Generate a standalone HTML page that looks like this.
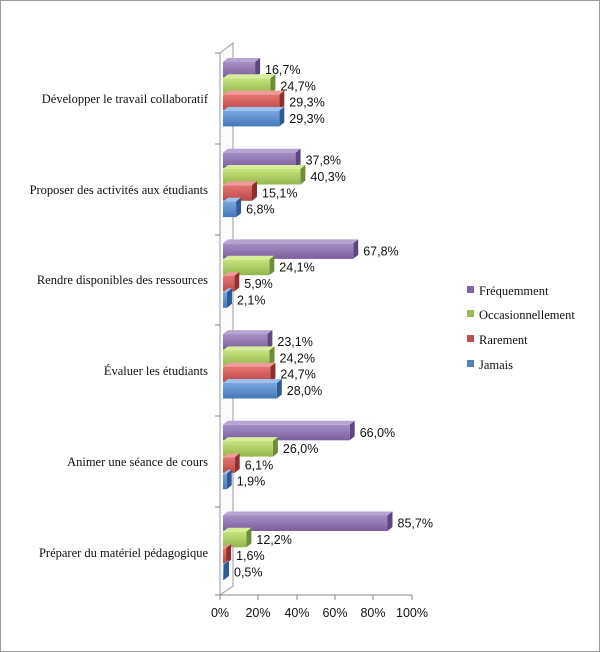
<!DOCTYPE html>
<html><head><meta charset="utf-8"><style>
html,body{margin:0;padding:0;background:#fff}
svg{display:block}
.c{font-family:"Liberation Serif",serif;font-size:12.5px;fill:#111}
.v{font-family:"Liberation Sans",sans-serif;font-size:12.5px;fill:#111}
.l{font-family:"Liberation Serif",serif;font-size:12.5px;fill:#111}
.tp{fill:#b7a3d3}.sp{fill:#5f467f}.fp{fill:url(#gp)}
.tg{fill:#d6ee98}.sg{fill:#6f8d36}.fg{fill:url(#gg)}
.tr{fill:#ee9a97}.sr{fill:#8f302d}.fr{fill:url(#gr)}
.tb{fill:#9dc0ec}.sb{fill:#2f5b94}.fb{fill:url(#gb)}
</style></head><body>
<svg width="600" height="652" viewBox="0 0 600 652" xmlns="http://www.w3.org/2000/svg">
<defs>
<linearGradient id="gp" x1="0" y1="0" x2="0" y2="1"><stop offset="0" stop-color="#a58fc4"/><stop offset="1" stop-color="#7a5e9e"/></linearGradient>
<linearGradient id="gg" x1="0" y1="0" x2="0" y2="1"><stop offset="0" stop-color="#c6e27c"/><stop offset="1" stop-color="#93b64f"/></linearGradient>
<linearGradient id="gr" x1="0" y1="0" x2="0" y2="1"><stop offset="0" stop-color="#e57470"/><stop offset="1" stop-color="#bc4844"/></linearGradient>
<linearGradient id="gb" x1="0" y1="0" x2="0" y2="1"><stop offset="0" stop-color="#78a5e0"/><stop offset="1" stop-color="#4677b8"/></linearGradient>
</defs>
<rect x="0.5" y="0.5" width="599" height="651" fill="#fff" stroke="#9a9a9a"/>
<path d="M220,53 L233,43 L233,586 L220,595 Z" fill="#fbfbfb" stroke="#999" stroke-width="1"/>
<line x1="220" y1="595" x2="412" y2="595" stroke="#888"/>
<g stroke="#888">
<line x1="220" y1="595" x2="220" y2="600"/><line x1="258" y1="595" x2="258" y2="600"/><line x1="297" y1="595" x2="297" y2="600"/><line x1="335" y1="595" x2="335" y2="600"/><line x1="373" y1="595" x2="373" y2="600"/><line x1="412" y1="595" x2="412" y2="600"/>
<line x1="215" y1="53" x2="220" y2="53"/><line x1="215" y1="144" x2="220" y2="144"/><line x1="215" y1="235" x2="220" y2="235"/><line x1="215" y1="325" x2="220" y2="325"/><line x1="215" y1="416" x2="220" y2="416"/><line x1="215" y1="507" x2="220" y2="507"/><line x1="215" y1="595" x2="220" y2="595"/>
</g>
<g class="v" text-anchor="middle">
<text x="220" y="617">0%</text><text x="258" y="617">20%</text><text x="297" y="617">40%</text><text x="335" y="617">60%</text><text x="373" y="617">80%</text><text x="412" y="617">100%</text>
</g>
<g class="c" text-anchor="end">
<text x="208" y="103">Développer le travail collaboratif</text>
<text x="208" y="194">Proposer des activités aux étudiants</text>
<text x="208" y="284">Rendre disponibles des ressources</text>
<text x="208" y="375">Évaluer les étudiants</text>
<text x="208" y="466">Animer une séance de cours</text>
<text x="208" y="557">Préparer du matériel pédagogique</text>
</g>

<g transform="translate(223,62)"><path class="tp" d="M0,0 L5,-4 L37.1,-4 L32.1,0Z"/><path class="sp" d="M32.1,0 L37.1,-4 L37.1,11.5 L32.1,15.5Z"/><rect class="fp" width="32.1" height="15.5"/><text class="v" x="42" y="12">16,7%</text></g>
<g transform="translate(223,78.3)"><path class="tg" d="M0,0 L5,-4 L52.4,-4 L47.4,0Z"/><path class="sg" d="M47.4,0 L52.4,-4 L52.4,11.5 L47.4,15.5Z"/><rect class="fg" width="47.4" height="15.5"/><text class="v" x="57.4" y="12">24,7%</text></g>
<g transform="translate(223,94.6)"><path class="tr" d="M0,0 L5,-4 L61.3,-4 L56.3,0Z"/><path class="sr" d="M56.3,0 L61.3,-4 L61.3,11.5 L56.3,15.5Z"/><rect class="fr" width="56.3" height="15.5"/><text class="v" x="66.3" y="12">29,3%</text></g>
<g transform="translate(223,110.9)"><path class="tb" d="M0,0 L5,-4 L61.3,-4 L56.3,0Z"/><path class="sb" d="M56.3,0 L61.3,-4 L61.3,11.5 L56.3,15.5Z"/><rect class="fb" width="56.3" height="15.5"/><text class="v" x="66.3" y="12">29,3%</text></g>
<g transform="translate(223,152.7)"><path class="tp" d="M0,0 L5,-4 L77.6,-4 L72.6,0Z"/><path class="sp" d="M72.6,0 L77.6,-4 L77.6,11.5 L72.6,15.5Z"/><rect class="fp" width="72.6" height="15.5"/><text class="v" x="82.6" y="12">37,8%</text></g>
<g transform="translate(223,169)"><path class="tg" d="M0,0 L5,-4 L82.4,-4 L77.4,0Z"/><path class="sg" d="M77.4,0 L82.4,-4 L82.4,11.5 L77.4,15.5Z"/><rect class="fg" width="77.4" height="15.5"/><text class="v" x="87.4" y="12">40,3%</text></g>
<g transform="translate(223,185.3)"><path class="tr" d="M0,0 L5,-4 L34,-4 L29,0Z"/><path class="sr" d="M29,0 L34,-4 L34,11.5 L29,15.5Z"/><rect class="fr" width="29" height="15.5"/><text class="v" x="39" y="12">15,1%</text></g>
<g transform="translate(223,201.6)"><path class="tb" d="M0,0 L5,-4 L18.1,-4 L13.1,0Z"/><path class="sb" d="M13.1,0 L18.1,-4 L18.1,11.5 L13.1,15.5Z"/><rect class="fb" width="13.1" height="15.5"/><text class="v" x="23.1" y="12">6,8%</text></g>
<g transform="translate(223,243.4)"><path class="tp" d="M0,0 L5,-4 L135.2,-4 L130.2,0Z"/><path class="sp" d="M130.2,0 L135.2,-4 L135.2,11.5 L130.2,15.5Z"/><rect class="fp" width="130.2" height="15.5"/><text class="v" x="140.2" y="12">67,8%</text></g>
<g transform="translate(223,259.7)"><path class="tg" d="M0,0 L5,-4 L51.3,-4 L46.3,0Z"/><path class="sg" d="M46.3,0 L51.3,-4 L51.3,11.5 L46.3,15.5Z"/><rect class="fg" width="46.3" height="15.5"/><text class="v" x="56.3" y="12">24,1%</text></g>
<g transform="translate(223,276)"><path class="tr" d="M0,0 L5,-4 L16.3,-4 L11.3,0Z"/><path class="sr" d="M11.3,0 L16.3,-4 L16.3,11.5 L11.3,15.5Z"/><rect class="fr" width="11.3" height="15.5"/><text class="v" x="21.3" y="12">5,9%</text></g>
<g transform="translate(223,292.3)"><path class="tb" d="M0,0 L5,-4 L9,-4 L4,0Z"/><path class="sb" d="M4,0 L9,-4 L9,11.5 L4,15.5Z"/><rect class="fb" width="4" height="15.5"/><text class="v" x="14" y="12">2,1%</text></g>
<g transform="translate(223,334.1)"><path class="tp" d="M0,0 L5,-4 L49.4,-4 L44.4,0Z"/><path class="sp" d="M44.4,0 L49.4,-4 L49.4,11.5 L44.4,15.5Z"/><rect class="fp" width="44.4" height="15.5"/><text class="v" x="54.4" y="12">23,1%</text></g>
<g transform="translate(223,350.4)"><path class="tg" d="M0,0 L5,-4 L51.5,-4 L46.5,0Z"/><path class="sg" d="M46.5,0 L51.5,-4 L51.5,11.5 L46.5,15.5Z"/><rect class="fg" width="46.5" height="15.5"/><text class="v" x="56.5" y="12">24,2%</text></g>
<g transform="translate(223,366.7)"><path class="tr" d="M0,0 L5,-4 L52.4,-4 L47.4,0Z"/><path class="sr" d="M47.4,0 L52.4,-4 L52.4,11.5 L47.4,15.5Z"/><rect class="fr" width="47.4" height="15.5"/><text class="v" x="57.4" y="12">24,7%</text></g>
<g transform="translate(223,383)"><path class="tb" d="M0,0 L5,-4 L58.8,-4 L53.8,0Z"/><path class="sb" d="M53.8,0 L58.8,-4 L58.8,11.5 L53.8,15.5Z"/><rect class="fb" width="53.8" height="15.5"/><text class="v" x="63.8" y="12">28,0%</text></g>
<g transform="translate(223,424.8)"><path class="tp" d="M0,0 L5,-4 L131.7,-4 L126.7,0Z"/><path class="sp" d="M126.7,0 L131.7,-4 L131.7,11.5 L126.7,15.5Z"/><rect class="fp" width="126.7" height="15.5"/><text class="v" x="136.7" y="12">66,0%</text></g>
<g transform="translate(223,441.1)"><path class="tg" d="M0,0 L5,-4 L54.9,-4 L49.9,0Z"/><path class="sg" d="M49.9,0 L54.9,-4 L54.9,11.5 L49.9,15.5Z"/><rect class="fg" width="49.9" height="15.5"/><text class="v" x="59.9" y="12">26,0%</text></g>
<g transform="translate(223,457.4)"><path class="tr" d="M0,0 L5,-4 L16.7,-4 L11.7,0Z"/><path class="sr" d="M11.7,0 L16.7,-4 L16.7,11.5 L11.7,15.5Z"/><rect class="fr" width="11.7" height="15.5"/><text class="v" x="21.7" y="12">6,1%</text></g>
<g transform="translate(223,473.7)"><path class="tb" d="M0,0 L5,-4 L8.7,-4 L3.7,0Z"/><path class="sb" d="M3.7,0 L8.7,-4 L8.7,11.5 L3.7,15.5Z"/><rect class="fb" width="3.7" height="15.5"/><text class="v" x="13.7" y="12">1,9%</text></g>
<g transform="translate(223,515.5)"><path class="tp" d="M0,0 L5,-4 L169.5,-4 L164.5,0Z"/><path class="sp" d="M164.5,0 L169.5,-4 L169.5,11.5 L164.5,15.5Z"/><rect class="fp" width="164.5" height="15.5"/><text class="v" x="174.5" y="12">85,7%</text></g>
<g transform="translate(223,531.8)"><path class="tg" d="M0,0 L5,-4 L28.4,-4 L23.4,0Z"/><path class="sg" d="M23.4,0 L28.4,-4 L28.4,11.5 L23.4,15.5Z"/><rect class="fg" width="23.4" height="15.5"/><text class="v" x="33.4" y="12">12,2%</text></g>
<g transform="translate(223,548.1)"><path class="tr" d="M0,0 L5,-4 L8.1,-4 L3.1,0Z"/><path class="sr" d="M3.1,0 L8.1,-4 L8.1,11.5 L3.1,15.5Z"/><rect class="fr" width="3.1" height="15.5"/><text class="v" x="13.1" y="12">1,6%</text></g>
<g transform="translate(223,564.4)"><path class="tb" d="M0,0 L5,-4 L6,-4 L1,0Z"/><path class="sb" d="M1,0 L6,-4 L6,11.5 L1,15.5Z"/><rect class="fb" width="1" height="15.5"/><text class="v" x="11" y="12">0,5%</text></g>

<g class="l">
<rect x="467" y="286" width="7" height="7" fill="#8064a2"/><text x="479" y="295">Fréquemment</text>
<rect x="467" y="310" width="7" height="7" fill="#9bbb59"/><text x="479" y="319">Occasionnellement</text>
<rect x="467" y="335" width="7" height="7" fill="#c0504d"/><text x="479" y="344">Rarement</text>
<rect x="467" y="360" width="7" height="7" fill="#4f81bd"/><text x="479" y="369">Jamais</text>
</g>
</svg>
</body></html>
